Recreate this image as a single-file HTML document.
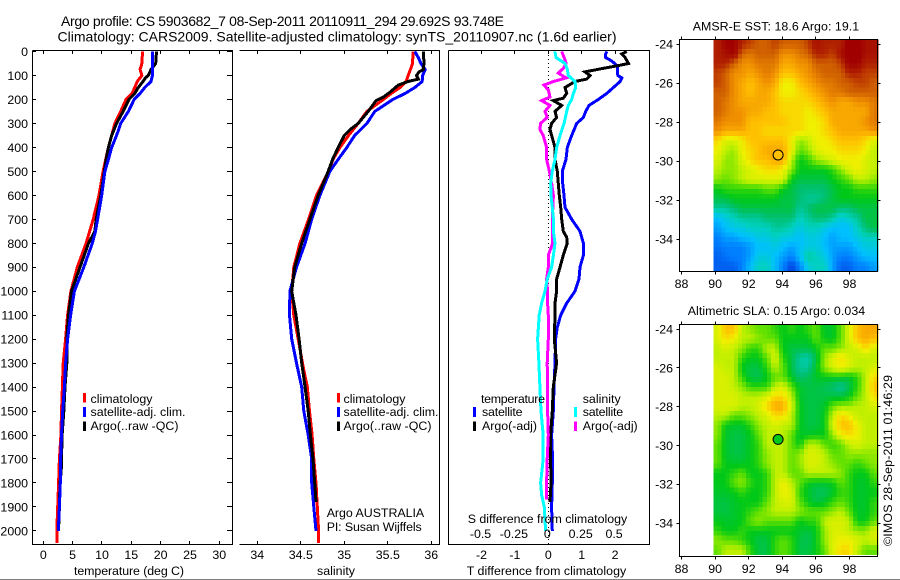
<!DOCTYPE html>
<html lang="en">
<head>
<meta charset="utf-8">
<title>Argo profile 5903682_7</title>
<style>
html,body{margin:0;padding:0;background:#fff;width:900px;height:580px;overflow:hidden}
svg{display:block}
text{font-family:"Liberation Sans",sans-serif;fill:#000;font-size:12.4px}
.t{font-size:14px}
</style>
</head>
<body>
<svg id="chart" xmlns="http://www.w3.org/2000/svg" width="900" height="580" viewBox="0 0 900 580">
<rect x="0" y="0" width="900" height="580" fill="#fff"/>
<rect x="0" y="579" width="900" height="1" fill="#808080"/>
<text class="t" x="61" y="26" textLength="443" lengthAdjust="spacing">Argo profile: CS 5903682_7 08-Sep-2011 20110911_294 29.692S 93.748E</text>
<text class="t" x="57.5" y="41.5" textLength="559" lengthAdjust="spacing">Climatology: CARS2009. Satellite-adjusted climatology: synTS_20110907.nc (1.6d earlier)</text>
<g id="maps"></g>
<g id="series"></g>
<g id="axes" shape-rendering="crispEdges" stroke="#000" stroke-width="1" fill="none">
<polyline points="32.5,50.5 232.5,50.5 232.5,544.5 32.5,544.5 32.5,50.5"/>
<polyline points="239.5,50.5 439.5,50.5 439.5,544.5 239.5,544.5"/>
<polyline points="448.5,50.5 649.5,50.5 649.5,544.5 448.5,544.5 448.5,50.5"/>
<rect x="679.5" y="39.5" width="198" height="232"/>
<rect x="679.5" y="324.5" width="198" height="232"/>
</g>
<g id="labels"></g>

<text x="74" y="575" textLength="110" lengthAdjust="spacing">temperature (deg C)</text>
<text x="317" y="575" textLength="38" lengthAdjust="spacing">salinity</text>
<text x="466.7" y="575" textLength="159.5" lengthAdjust="spacing">T difference from climatology</text>
<text x="467.7" y="523" textLength="159.5" lengthAdjust="spacing">S difference from climatology</text>

<g>
<rect x="83" y="393" width="3" height="9.5" fill="#f00"/>
<text x="90.5" y="403" textLength="62" lengthAdjust="spacing">climatology</text>
<rect x="83" y="407" width="3" height="10" fill="#00f"/>
<text x="90.5" y="416" textLength="95" lengthAdjust="spacing">satellite-adj. clim.</text>
<rect x="83" y="421.5" width="3" height="9.5" fill="#000"/>
<text x="90.5" y="430" textLength="88" lengthAdjust="spacing">Argo(..raw -QC)</text>
</g>
<g>
<rect x="337" y="393" width="3" height="9.5" fill="#f00"/>
<text x="343.5" y="403" textLength="62" lengthAdjust="spacing">climatology</text>
<rect x="337" y="407" width="3" height="10" fill="#00f"/>
<text x="343.5" y="416" textLength="95" lengthAdjust="spacing">satellite-adj. clim.</text>
<rect x="337" y="421.5" width="3" height="9.5" fill="#000"/>
<text x="343.5" y="430" textLength="88" lengthAdjust="spacing">Argo(..raw -QC)</text>
</g>
<text x="326.7" y="517" textLength="97.5" lengthAdjust="spacing">Argo AUSTRALIA</text>
<text x="326.7" y="531" textLength="95" lengthAdjust="spacing">PI: Susan Wijffels</text>

<g>
<text x="481" y="403" textLength="64" lengthAdjust="spacing">temperature</text>
<rect x="473" y="407" width="3" height="10" fill="#00f"/>
<text x="482" y="416" textLength="40.5" lengthAdjust="spacing">satellite</text>
<rect x="473" y="421.5" width="3" height="9.5" fill="#000"/>
<text x="482" y="430" textLength="55" lengthAdjust="spacing">Argo(-adj)</text>
<text x="582.7" y="403" textLength="38" lengthAdjust="spacing">salinity</text>
<rect x="574" y="407" width="3" height="10" fill="#0ff"/>
<text x="582.7" y="416" textLength="40.5" lengthAdjust="spacing">satellite</text>
<rect x="574" y="421.5" width="3" height="9.5" fill="#f0f"/>
<text x="582.7" y="430" textLength="55" lengthAdjust="spacing">Argo(-adj)</text>
</g>

<text x="692.7" y="30.5" textLength="166.5" lengthAdjust="spacing">AMSR-E SST: 18.6 Argo: 19.1</text>
<text x="687.7" y="315" textLength="177.5" lengthAdjust="spacing">Altimetric SLA: 0.15 Argo: 0.034</text>
<text transform="translate(892,546) rotate(-90)" x="0" y="0" textLength="171" lengthAdjust="spacing">©IMOS 28-Sep-2011 01:46:29</text>
</svg>

<script>
/* ---------- profile data (depth in metres) ---------- */
const tempClimDepth = [0,50,75,100,125,150,175,200,250,300,400,500,600,700,800,900,1000,1100,1200,1300,1400,1500,1600,1700,1800,1900,2000,2050];
const tempClim = [16.9,16.8,16.5,16.8,16,15.6,15.1,14.1,13.2,12.2,11.1,10.2,9.5,8.5,7.3,5.8,4.7,4.15,3.8,3.4,3.25,3.1,3,2.75,2.6,2.45,2.3,2.3];
const tempSatDepth = [0,100,125,150,175,200,250,300,350,400,450,500,600,700,750,800,900,1000,1100,1200,1300,1400,1500,1600,1700,1800,1900,2000];
const tempSat = [18.6,18.6,18.35,17.3,16.5,15.5,14.5,13.2,12.5,11.65,11.1,10.5,9.95,9.25,8.9,8.35,6.9,5.3,4.65,4.15,3.8,3.6,3.3,3.1,2.95,2.9,2.75,2.55];
const tempArgoDepth = [0,50,75,100,110,125,150,175,200,250,300,350,400,450,500,600,700,750,800,900,1000,1100,1200,1300,1400,1500,1600,1700,1750,1800,1900,1990];
const tempArgo = [19.3,19.15,18.35,17.9,17.4,17,16.2,15.6,14.6,13.6,12.5,11.65,11.1,10.7,10.4,9.8,9,8.8,7.7,6.25,4.8,4.3,4,4,3.7,3.5,3.2,3.1,3.05,2.85,2.75,2.6];

const salClimDepth = [0,50,75,100,125,150,175,200,250,300,350,400,450,500,600,700,800,900,1000,1100,1200,1300,1400,1500,1600,1700,1800,1900,2000,2050];
const salClim = [35.79,35.785,35.76,35.735,35.71,35.64,35.54,35.45,35.26,35.16,35.05,34.95,34.87,34.82,34.68,34.59,34.49,34.42,34.395,34.42,34.47,34.52,34.575,34.6,34.63,34.65,34.675,34.69,34.705,34.705];
const salSatDepth = [0,25,50,75,100,125,150,175,200,250,300,350,400,450,500,600,700,800,900,1000,1100,1200,1300,1400,1500,1600,1700,1800,1900,2000];
const salSat = [35.81,35.85,35.88,35.93,35.9,35.895,35.81,35.7,35.56,35.35,35.26,35.12,35.03,34.93,34.835,34.72,34.625,34.55,34.45,34.375,34.37,34.395,34.45,34.51,34.535,34.585,34.625,34.625,34.65,34.675];
const salArgoDepth = [0,50,75,85,100,115,125,140,170,190,205,250,300,325,350,400,450,500,600,700,800,900,1000,1100,1200,1300,1400,1500,1600,1700,1800,1880];
const salArgo = [35.91,35.915,35.91,35.86,35.83,35.85,35.735,35.62,35.525,35.45,35.365,35.275,35.16,35.07,35,34.93,34.865,34.815,34.7,34.605,34.51,34.43,34.395,34.445,34.48,34.51,34.55,34.585,34.61,34.64,34.66,34.675];

const diffTSatDepth = [0,10,25,40,60,75,100,110,125,150,175,200,225,250,275,300,350,400,450,500,550,600,650,700,750,800,850,900,950,1000,1050,1100,1150,1200,1300,1400,1500,1600,1700,1800,1900,2000];
const diffTSat = [1.75,1.72,1.72,1.9,2.07,2.07,2.08,2.2,2.15,1.95,1.75,1.5,1.22,1.12,1.05,0.85,0.7,0.57,0.53,0.42,0.43,0.47,0.5,0.7,0.95,1.05,1.05,0.95,0.92,0.8,0.55,0.37,0.27,0.22,0.2,0.17,0.15,0.1,0.13,0.12,0.1,0.12];
const diffTArgoDepth = [0,10,25,50,60,70,85,100,115,125,150,175,195,205,225,250,275,300,325,350,400,450,500,550,600,650,700,750,775,800,850,900,950,1000,1050,1100,1200,1300,1400,1500,1600,1700,1800,1880];
const diffTArgo = [2.35,2.2,2.3,2.4,2.05,1.65,1.1,1.25,1.15,0.8,0.5,0.55,0.45,0.15,0.4,0.2,0.25,0.1,0.05,0.1,0.2,0.2,0.27,0.3,0.33,0.37,0.4,0.45,0.55,0.57,0.45,0.35,0.25,0.25,0.2,0.2,0.18,0.25,0.15,0.12,0.07,0.07,0.08,0.05];
const diffSSatDepth = [0,25,50,75,100,125,150,175,200,225,250,300,350,400,450,500,550,600,650,700,750,800,850,900,950,1000,1050,1100,1200,1300,1400,1500,1600,1700,1800,1850,1900,2000];
const diffSSat = [0.05,0.058,0.125,0.143,0.15,0.2,0.205,0.188,0.175,0.15,0.138,0.118,0.088,0.063,0.05,0.03,0.018,0.02,0.03,0.038,0.038,0.05,0.038,0.025,-0.008,-0.025,-0.05,-0.068,-0.08,-0.07,-0.063,-0.055,-0.038,-0.038,-0.058,-0.05,-0.03,-0.02];
const diffSArgoDepth = [0,25,50,70,90,110,125,140,160,190,205,225,250,275,300,325,350,400,450,500,550,600,700,800,850,900,950,1000,1050,1100,1200,1300,1400,1500,1600,1700,1800,1870];
const diffSArgo = [0.1,0.118,0.133,0.113,0.075,0.133,0.038,-0.033,0,0.013,-0.05,0.013,-0.025,-0.008,-0.058,-0.063,-0.038,-0.013,-0.013,0.008,0.025,0.038,0.03,0.033,0,0,-0.013,-0.005,-0.005,0,0,-0.008,-0.005,-0.005,0,-0.008,-0.013,-0.013];

/* ---------- tick values ---------- */
const depthTicks = [0,100,200,300,400,500,600,700,800,900,1000,1100,1200,1300,1400,1500,1600,1700,1800,1900,2000];
const tempTicks = [0,5,10,15,20,25,30];
const salTicks = [34,34.5,35,35.5,36];
const diffTTicks = [-2,-1,0,1,2];
const diffSTicks = [-0.5,-0.25,0,0.25,0.5];
const lonTicks = [88,90,92,94,96,98];
const latTicks = [-24,-26,-28,-30,-32,-34];

/* ---------- map data: rows north to south, colour-index values ---------- */
const sstRows = [
[12,13,13,12,11.5,11,11,11.5,11,11,11,11.5,12.5,12,12,12,13.5,13.5,12.5,12.5],
[12,12.5,13,11,10.5,11,11,11,10,10,10.5,11,12,12,11.5,12.5,13.5,13.5,12.5,12.5],
[12,12,11,10,10,10.5,10.5,10.5,9.5,9.5,10,10,11,11,11,11.5,13,13,12,12],
[11.5,11,10,10,9.5,10,10.5,10,9,9,9.5,10,10.5,11,11,11,12,12,11.5,11.5],
[11.5,11,10,9.5,9,9.5,10,9.5,8,8,9,9.5,10,10.5,10.5,11,11,11.5,11.5,11],
[11,11,10,9.5,9,9.5,9.5,9,8,8,8.5,9,9.5,10,10.5,10.5,11,11,11,11],
[11,10.5,10,9.5,9.5,9.5,9.5,9,8.5,8.5,8.5,8.5,9,9.5,10,9.5,9.5,10,10,10.5],
[11,10.5,10,10,9.5,9.5,9,9,8.5,8.5,8.5,8,8.5,9,9.5,9.5,9.5,9.5,9.5,10.5],
[10.5,10,10,10,9,9,9,9,9,8.5,8.5,8,8,8.5,9.5,9.5,9.5,9.5,10,10.5],
[10,9.5,9.5,9.5,9,9,8.5,8.5,8.5,8.5,8.5,8,8,8.5,9,9.5,9.5,9.5,9.5,10],
[8.5,7.5,7.5,8,9,9,9,9,9,8,6.5,7,8,8,8.5,9,9,9,8.5,7.5],
[8,7,6.5,8,8.5,9,9.5,9.5,9.5,8,6,6.5,7.5,8,8,8.5,8.5,8.5,8,7],
[7.5,6.5,6.5,7.5,8.5,9,9,9.5,9.5,7,5,5.5,6.5,7,7.5,8,8,8,7.5,7],
[7,6.5,6.5,7,7.5,8,8.5,8.5,8,6.5,5,5,5,5,5.5,6.5,7.5,8,7.5,7],
[6.5,6,6.5,7,7.5,7.5,7.5,7.5,7.5,5,4.5,4.5,4.5,4.5,5,5.5,6,7,7,6.5],
[5,5.5,5.5,5.5,5.5,5.5,6,6,5,4.5,4,4,4,4,4.5,5,5,5.5,5.5,5.5],
[4.5,4.5,5,5,5,5,5,5,4.5,4.5,4,3.5,3.5,4,4.5,5,5,5,5,5],
[3.5,3.5,4,4.5,4.5,4.5,4.5,4.5,4.5,4.5,3.5,4,4.5,4.5,4.5,4,4,4.5,4.5,4.5],
[2,2.5,3,3.5,3.5,3.5,4,4,4,4,3,3.5,4,4,3.5,2.5,3,3.5,4.5,4.5],
[1.5,2,2.5,2.5,3,3,3,3.5,3.5,3,2.5,3,3,2.5,2,2,2,3,4,4.5],
[1,1.5,1.5,2,2,2.5,2.5,3,2.5,2.5,2,2.5,2.5,2,1.5,2,2,2.5,3,3],
[0.8,1,1,1,1.5,2,2,2.5,2,1.5,2,2.5,2.5,2,1.5,1.5,1.5,2,2.5,2.5],
[0.5,0.8,1,1,1.5,2.5,2.5,2,1.5,1,2,3.5,3,2.5,1.5,1,1,1.5,2,2],
[0.5,0.5,0.5,1,2,3,3,2,1,0,1,2.5,3,3,1.5,0.5,0.5,1,1,1.5]
];
const slaRows = [
[7.5,9,9,7,6.5,6,6,5.5,5,5.5,5,5.5,6,4.8,4.8,6,7.5,9,9.5,9.5],
[7.5,8.5,8,7,7,6.5,6,6,5,5,5,5,6,5,4.8,6,7.5,9,9.5,9],
[7,7.5,7,6.5,5.5,5.5,7,7,5,4.5,4.5,4.5,5,6,6,6.5,7,7.5,8.5,7.5],
[7,7,7,5.5,5,5,6,7.5,5.5,4.5,3.5,3.2,4.5,6.5,7.5,8.5,7.5,7,7,7],
[7.5,7,7,5,4.5,4.5,5.5,7,6,4.5,3.5,3.5,4.8,6.5,7.5,8,7.5,7,7,7.5],
[7.5,7.5,7,5.5,4.5,4.3,5,6,6,4.8,4,4.3,4.8,5,5,5,4.8,5.5,7,8.5],
[7.5,7.5,7,6.5,5.5,5.5,5.5,7,7.5,6,4.8,4.5,4.5,4.3,4,3.5,4.3,5.5,7,9],
[7.5,7.5,7.5,7,7,7,7.5,8.5,8.5,7,4.8,4.5,4.5,4.5,4.5,4.5,5,6,7,8.5],
[7.5,7.5,7.5,7,7,7.5,8.5,9.5,9.5,7.5,5,4.5,4.5,4.8,6,6.5,6.5,7,7,7.5],
[7,7,6,6,6.5,7,7.5,8.5,8.5,7,5,4.5,4.5,5,7,8.5,8,7,7,7],
[6.5,5,4.8,4.8,5.5,6.5,7,7.5,7,7,5,4.5,4.5,5,7.5,9,9,8,7,7],
[6.5,4.8,4.5,4.5,5,6,7,7,7,6,4.8,4.8,5,5,6.5,8,8.5,8,7,7],
[6,4.8,4.5,4.5,5,5.5,7,7,7,6,5,7,7,6,5.5,6,7,7.5,7,7],
[6,4.8,4.5,4.5,5,5.5,6.5,7,7,6,6.5,7.5,7.5,7,6,6,6.5,6.5,6.5,6.5],
[6,5,4.8,4.8,5,5.5,6.5,7,7,6,6.5,7.5,7.5,7,6.5,6,6,5.5,6,6.5],
[5,5,5.5,6,5,5,5.5,7,7,6,6,7,7,7,7,6.5,5.5,5,5,6],
[5,5,6,6.5,5.5,5,5.5,7,8,7,6,5,4.8,4.8,5,6,5.5,4.8,4.8,5.5],
[4.8,4.8,5,5.5,5,5,5.5,7,8,7.5,5.5,4.8,4.3,4.2,4.8,5.5,5.5,4.8,4.8,5],
[4.6,4.5,4.8,5,5,5,6,7,7.5,7.5,6,5,4.5,4.8,5.5,6,5.5,4.8,4.8,5.5],
[4.6,4.5,4.8,5,5.5,6,6.5,7,7,7,6.5,6,6,6,6.5,7,6,4.8,4.8,5.5],
[5,4.8,4.8,5,6,6.5,6,6,6,6,5,5.5,5.5,7,7.5,7.5,7,5,5,6],
[5.5,5,5,5.5,5,5,5,5,5,5,4.8,4.5,5,6.5,7.5,7.5,7,6.5,6.5,7.5],
[6.5,6,6,5.5,5,4.5,4.5,5.5,6,5.5,4.5,4.3,5,6.5,7.5,8,8,7.5,7,7.5],
[6,7,7,7,5.5,4.5,4.5,5.5,6,5.5,4.5,4.5,5,6,7.5,8.5,8.5,7,6,6]
];
const argoPosition = [93.748,-29.692];
const sstArgoValue = [9];
const slaArgoValue = [5];
const colourStops = ["#0040e0","#0080ff","#00c0ff","#00d0c0","#00c070","#00c818","#60e000","#c0f000","#f0f000","#ffc000","#f09000","#d06000","#b02000","#a00000"];

/* ---------- axis functions ---------- */
const yDepth = d => 51.5 + 0.2397 * d;
const xTemp = t => 43.3 + 5.867 * t;
const xSal = s => 257.3 + 87 * (s - 34);
const xDiffT = t => 548.3 + 33.4 * t;
const xDiffS = s => 548.3 + 133.6 * s;
const xLon = lon => 681.5 + 16.8 * (lon - 88);
const ySst = lat => 44 + 19.5 * (-24 - lat);
const ySla = lat => 329 + 19.4 * (-24 - lat);

const NS = "http://www.w3.org/2000/svg";
const seriesLayer = document.getElementById("series");
const axesLayer = document.getElementById("axes");
const labelsLayer = document.getElementById("labels");
const mapsLayer = document.getElementById("maps");

function hex(c){ return [1,3,5].map(i => parseInt(c.substr(i,2),16)); }
function colour(v){
  const c = Math.max(0, Math.min(colourStops.length - 1, v));
  const i = Math.min(colourStops.length - 2, Math.floor(c));
  const f = c - i, a = hex(colourStops[i]), b = hex(colourStops[i + 1]);
  return "rgb(" + a.map((x, k) => Math.round(x + (b[k] - x) * f)).join(",") + ")";
}
function drawLine(name, depths, values, xFn, color, width){
  const p = document.createElementNS(NS, "polyline");
  
  
  p.setAttribute("points", values.map((v, i) => xFn(v).toFixed(1) + "," + yDepth(depths[i]).toFixed(1)).join(" "));
  p.setAttribute("fill", "none");
  p.setAttribute("stroke", color);
  p.setAttribute("stroke-width", width);
  p.setAttribute("shape-rendering", "crispEdges");
  seriesLayer.appendChild(p);
}
function tick(name, x1, y1, x2, y2){
  const l = document.createElementNS(NS, "line");
  
  
  l.setAttribute("x1", Math.floor(x1) + 0.5);
  l.setAttribute("y1", Math.floor(y1) + 0.5);
  l.setAttribute("x2", x2 === x1 ? Math.floor(x2) + 0.5 : x2);
  l.setAttribute("y2", y2 === y1 ? Math.floor(y2) + 0.5 : y2);
  axesLayer.appendChild(l);
}
function label(name, str, x, y, anchor){
  const t = document.createElementNS(NS, "text");
  
  
  t.setAttribute("x", x);
  t.setAttribute("y", y);
  t.setAttribute("text-anchor", anchor);
  t.textContent = str;
  labelsLayer.appendChild(t);
}

/* ---------- series ---------- */
drawLine("temperature-climatology-line", tempClimDepth, tempClim, xTemp, "#f00", 3);
drawLine("temperature-argo-line", tempArgoDepth, tempArgo, xTemp, "#000", 3);
drawLine("temperature-satellite-line", tempSatDepth, tempSat, xTemp, "#00f", 3);
drawLine("salinity-climatology-line", salClimDepth, salClim, xSal, "#f00", 3);
drawLine("salinity-satellite-line", salSatDepth, salSat, xSal, "#00f", 3);
drawLine("salinity-argo-line", salArgoDepth, salArgo, xSal, "#000", 3);

const zeroLine = document.createElementNS(NS, "line");


zeroLine.setAttribute("x1", Math.floor(xDiffT(0)) + 0.5);
zeroLine.setAttribute("x2", Math.floor(xDiffT(0)) + 0.5);
zeroLine.setAttribute("y1", 51);
zeroLine.setAttribute("y2", 544);
zeroLine.setAttribute("stroke", "#000");
zeroLine.setAttribute("stroke-dasharray", "1 3");
zeroLine.setAttribute("shape-rendering", "crispEdges");
seriesLayer.appendChild(zeroLine);

drawLine("t-difference-satellite-line", diffTSatDepth, diffTSat, xDiffT, "#00f", 3);
drawLine("t-difference-argo-line", diffTArgoDepth, diffTArgo, xDiffT, "#000", 3);
drawLine("s-difference-argo-line", diffSArgoDepth, diffSArgo, xDiffS, "#f0f", 3);
drawLine("s-difference-satellite-line", diffSSatDepth, diffSSat, xDiffS, "#0ff", 3);

/* ---------- ticks and labels for profile panels ---------- */
depthTicks.forEach(d => {
  const y = yDepth(d);
  tick("depth-tick-left", 32.5, y, 36, y);
  tick("depth-tick-right", 232.5, y, 227, y);
  label("depth-tick-label", d, 28, y + 4.5, "end");
});
tempTicks.forEach(t => {
  const x = xTemp(t);
  tick("temperature-tick-top", x, 50.5, x, 54);
  tick("temperature-tick-bottom", x, 544.5, x, 541);
  label("temperature-tick-label", t, x, 559, "middle");
});
salTicks.forEach(s => {
  const x = xSal(s);
  tick("salinity-tick-top", x, 50.5, x, 54);
  tick("salinity-tick-bottom", x, 544.5, x, 541);
  label("salinity-tick-label", s, x, 559, "middle");
});
diffTTicks.forEach(t => {
  const x = xDiffT(t);
  tick("t-difference-tick-top", x, 50.5, x, 54);
  label("t-difference-tick-label", t, x, 559, "middle");
});
diffSTicks.forEach(s => {
  label("s-difference-tick-label", s, xDiffS(s) - 1, 538, "middle");
});

/* ---------- maps ---------- */
function sampleRows(rows, r, c){
  const rr = Math.max(0, Math.min(rows.length - 1, r));
  const cc = Math.max(0, Math.min(rows[0].length - 1, c));
  const r0 = Math.min(rows.length - 2, Math.floor(rr)), c0 = Math.min(rows[0].length - 2, Math.floor(cc));
  const fr = rr - r0, fc = cc - c0;
  const top = rows[r0][c0] * (1 - fc) + rows[r0][c0 + 1] * fc;
  const bot = rows[r0 + 1][c0] * (1 - fc) + rows[r0 + 1][c0 + 1] * fc;
  return top * (1 - fr) + bot * fr;
}
function drawMap(prefix, rows, yFn, bottomY, topY, argoValue){
  const lonEdge = 89.89, dLon = 0.49, latEdge = -23.76, dLat = 0.495, sub = 2;
  for (let r = 0; r < rows.length * sub; r++) {
    for (let c = 0; c < rows[0].length * sub; c++) {
      const v = sampleRows(rows, (r + 0.5) / sub - 0.5, (c + 0.5) / sub - 0.5);
      const rect = document.createElementNS(NS, "rect");
      
      
      const x0 = xLon(lonEdge + c * dLon / sub), x1 = xLon(lonEdge + (c + 1) * dLon / sub);
      const y0 = yFn(latEdge - r * dLat / sub), y1 = yFn(latEdge - (r + 1) * dLat / sub);
      rect.setAttribute("x", x0.toFixed(1));
      rect.setAttribute("y", y0.toFixed(1));
      rect.setAttribute("width", (x1 - x0 + 0.4).toFixed(1));
      rect.setAttribute("height", (y1 - y0 + 0.4).toFixed(1));
      rect.setAttribute("fill", colour(v));
      rect.setAttribute("shape-rendering", "crispEdges");
      mapsLayer.appendChild(rect);
    }
  }
  lonTicks.forEach(lon => {
    const x = xLon(lon);
    tick(prefix + "-lon-tick-top", x, topY, x, topY - 3);
    tick(prefix + "-lon-tick-bottom", x, bottomY, x, bottomY + 3);
    label(prefix + "-lon-tick-label", lon, x, bottomY + 16.5, "middle");
  });
  latTicks.forEach(lat => {
    const y = yFn(lat);
    tick(prefix + "-lat-tick-left", 679.5, y, 676.5, y);
    tick(prefix + "-lat-tick-right", 877.5, y, 880.5, y);
    label(prefix + "-lat-tick-label", lat, 673, y + 4.5, "end");
  });
  const dot = document.createElementNS(NS, "circle");
  
  
  dot.setAttribute("cx", xLon(argoPosition[0]).toFixed(1));
  dot.setAttribute("cy", yFn(argoPosition[1]).toFixed(1));
  dot.setAttribute("r", 5);
  dot.setAttribute("fill", colour(argoValue[0]));
  dot.setAttribute("stroke", "#000");
  dot.setAttribute("stroke-width", 1);
  labelsLayer.appendChild(dot);
}
drawMap("sst", sstRows, ySst, 271.5, 39.5, sstArgoValue);
drawMap("sla", slaRows, ySla, 556.5, 324.5, slaArgoValue);
</script>
</body>
</html>
